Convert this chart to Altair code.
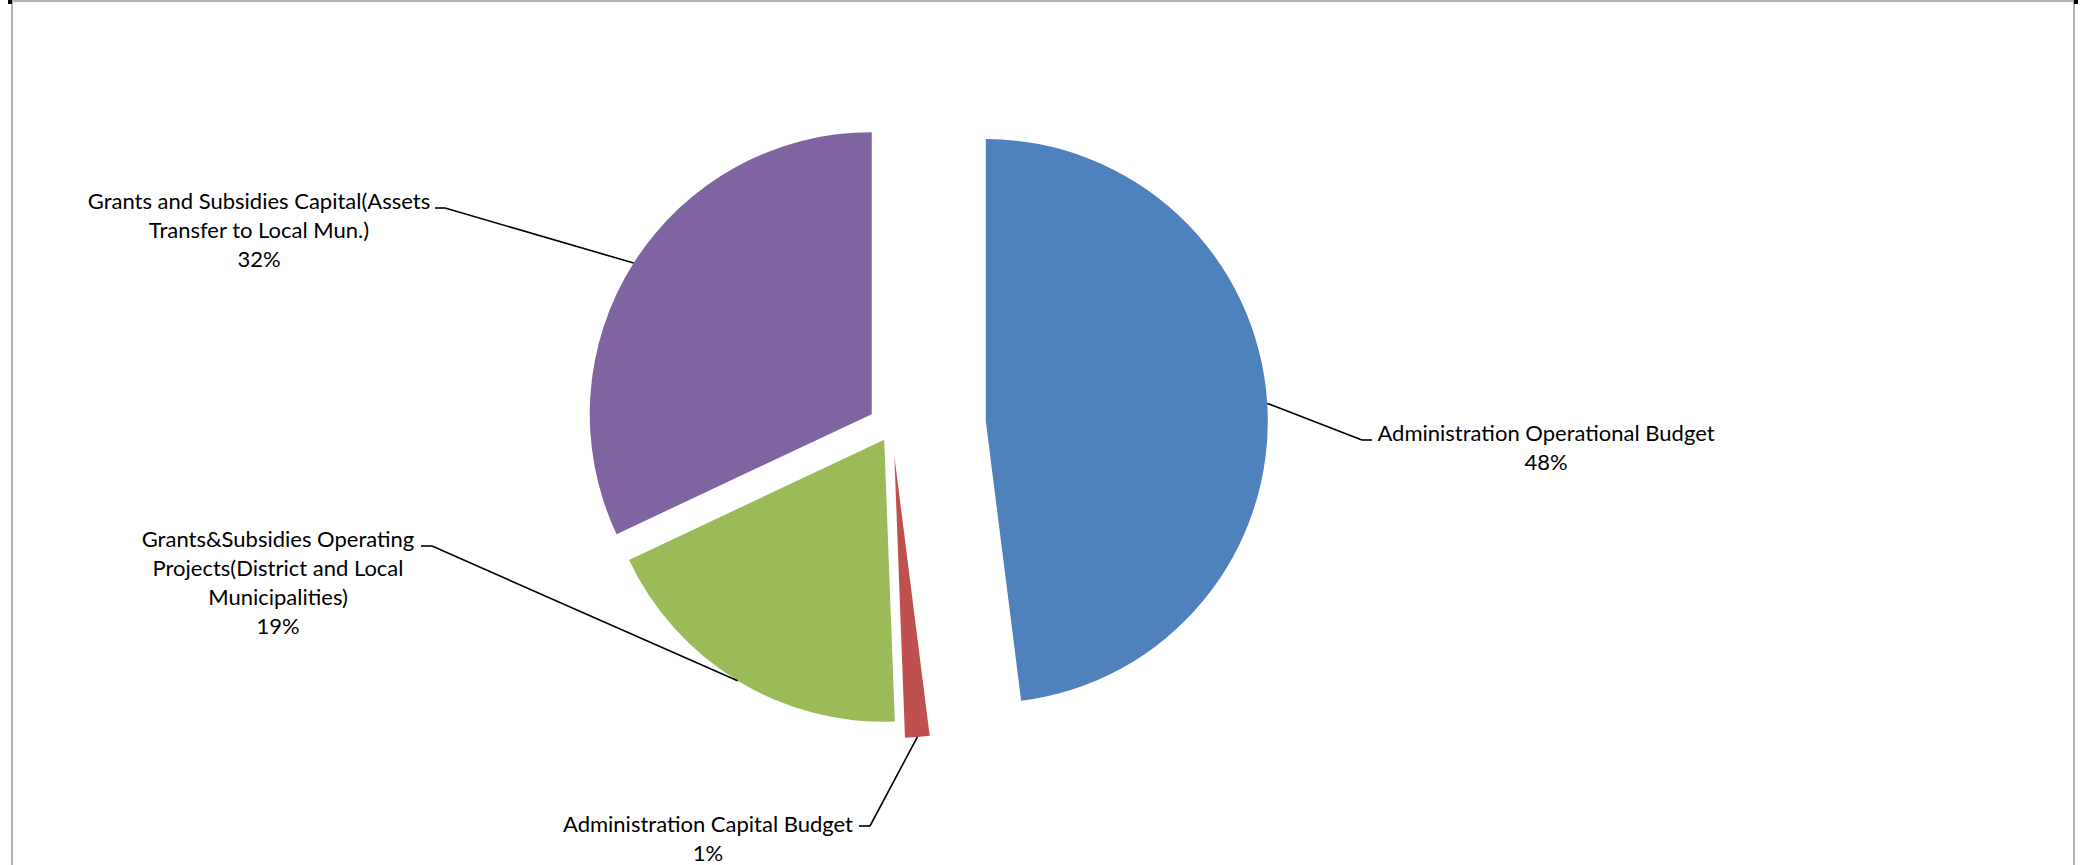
import altair as alt
import pandas as pd

# ---- data ----
categories = [
    "Administration Operational Budget",
    "Administration Capital Budget",
    "Grants&Subsidies Operating Projects(District and Local Municipalities)",
    "Grants and Subsidies Capital(Assets Transfer to Local Mun.)",
]
shares = [48.0, 1.4, 18.6, 32.0]
label_names = [
    "Administration Operational Budget",
    "Administration Capital Budget",
    "Grants&Subsidies Operating\nProjects(District and Local\nMunicipalities)",
    "Grants and Subsidies Capital(Assets\nTransfer to Local Mun.)",
]

# ---- style / layout ----
colors = ["#4F81BD", "#C0504D", "#9BBB59", "#8064A2"]
CX, CY, R = 892, 427, 282
explode = [94, 29, 15, 24]
elbow_x = [1362, 870, 432, 445]
elbow_y = [440, 826, 546, 208]
tick_x = [1372, 859, 421, 435]
label_x = [1546, 708, 278, 259]
FS = 22
LH = 29
label_top = [y - round(0.79 * FS) for y in [441, 832, 547, 209]]

df = pd.DataFrame({
    "idx": list(range(len(categories))),
    "cat": categories,
    "share": shares,
    "name": label_names,
    "ex": explode,
    "lx": elbow_x,
    "ly": elbow_y,
    "tx": tick_x,
    "px": label_x,
    "py": label_top,
})

base = alt.Chart(df).transform_window(
    cum="sum(share)", sort=[alt.SortField("idx")], frame=[None, 0]
).transform_joinaggregate(
    total="sum(share)"
).transform_calculate(
    a0="(datum.cum - datum.share) / datum.total * 2 * PI",
    a1="datum.cum / datum.total * 2 * PI",
).transform_calculate(
    mid="(datum.a0 + datum.a1) / 2",
).transform_calculate(
    ox=f"{CX} + datum.ex * sin(datum.mid)",
    oy=f"{CY} - datum.ex * cos(datum.mid)",
    sx=f"{CX} + (datum.ex + {R}) * sin(datum.mid)",
    sy=f"{CY} - (datum.ex + {R}) * cos(datum.mid)",
    label="datum.name + '\\n' + round(datum.share) + '%'",
)

arcs = base.mark_arc(outerRadius=R, stroke=None).encode(
    x=alt.X("ox:Q", scale=None, axis=None),
    y=alt.Y("oy:Q", scale=None, axis=None),
    theta=alt.Theta("a0:Q", scale=None),
    theta2="a1:Q",
    color=alt.Color("cat:N", scale=alt.Scale(domain=categories, range=colors), legend=None),
)

leaders = base.mark_rule(color="black", strokeWidth=1.6).encode(
    x=alt.X("sx:Q", scale=None, axis=None),
    y=alt.Y("sy:Q", scale=None, axis=None),
    x2="lx:Q",
    y2="ly:Q",
)

ticks = base.mark_rule(color="black", strokeWidth=1.6).encode(
    x=alt.X("lx:Q", scale=None, axis=None),
    x2="tx:Q",
    y=alt.Y("ly:Q", scale=None, axis=None),
)

labels = base.mark_text(
    align="center", baseline="top", lineBreak="\n", lineHeight=LH,
    font="Lato", fontSize=FS, color="black",
).encode(
    x=alt.X("px:Q", scale=None, axis=None),
    y=alt.Y("py:Q", scale=None, axis=None),
    text="label:N",
)

frame = alt.Chart(pd.DataFrame({"k": [0]})).mark_rect(
    filled=False, stroke="#9a9a9a", strokeWidth=1.5
).encode(
    x=alt.value(12), x2=alt.value(2074), y=alt.value(1), y2=alt.value(900)
)

handles = alt.Chart(pd.DataFrame({"hx": [8, 2074]})).mark_rect(color="black").encode(
    x=alt.X("hx:Q", scale=None, axis=None),
    x2=alt.X2("hx2:Q"),
    y=alt.value(0),
    y2=alt.value(4),
).transform_calculate(hx2="datum.hx + 4")

chart = alt.layer(frame, handles, arcs, leaders, ticks, labels).properties(
    width=2091, height=865, padding=0, autosize="none", background="white"
).configure_view(stroke=None)

chart.save("out.html", embed_options={"renderer": "svg", "actions": False})
